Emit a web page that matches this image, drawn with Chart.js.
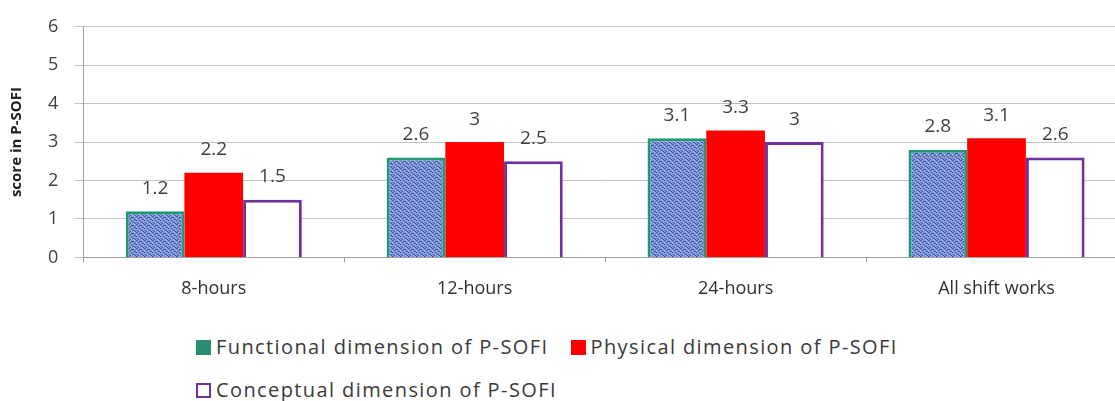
<!DOCTYPE html>
<html><head><meta charset="utf-8">
<script src="https://cdn.jsdelivr.net/npm/chart.js@4/dist/chart.umd.min.js"></script>
<style>
html,body{margin:0;padding:0;background:#fff;overflow:hidden;width:1115px;height:401px;}
#wrap{position:absolute;left:0;top:0;width:1127px;height:316px;}
#legend{position:absolute;left:196px;top:333px;width:780px;font-family:"Open Sans",sans-serif;font-size:20px;color:#3a3a3a;line-height:28px;white-space:nowrap;}
.item{display:inline-flex;align-items:center;margin-right:22px;height:28px;margin-bottom:15px;letter-spacing:1.4px;}
.sw{display:inline-block;width:15px;height:15px;margin-right:5px;box-sizing:border-box;}
</style></head><body>
<div id="wrap"><canvas id="c"></canvas></div>
<div id="legend"></div>
<script>
const categories = ["8-hours","12-hours","24-hours","All shift works"];
const functional = [1.2, 2.6, 3.1, 2.8];
const physical = [2.2, 3, 3.3, 3.1];
const conceptual = [1.5, 2.5, 3, 2.6];
const seriesNames = ["Functional dimension of P-SOFI","Physical dimension of P-SOFI","Conceptual dimension  of P-SOFI"];
const yTicks = [0,1,2,3,4,5,6];

function makePattern(){
  const p = document.createElement('canvas'); p.width = 8; p.height = 8;
  const g = p.getContext('2d');
  g.fillStyle = '#7f95d8'; g.fillRect(0,0,8,8);
  g.fillStyle = '#3b4fa0';
  const cells = [[0,0],[1,0],[4,1],[5,1],[2,2],[6,3],[7,3],[0,4],[3,4],[4,5],[1,6],[5,6],[6,6],[2,7],[7,7],[3,1]];
  cells.forEach(([x,y])=>g.fillRect(x,y,1,1));
  g.fillStyle = '#b5c3f0';
  [[2,0],[6,0],[0,2],[4,3],[1,5],[6,5],[3,6],[5,7]].forEach(([x,y])=>g.fillRect(x,y,1,1));
  return document.getElementById('c').getContext('2d').createPattern(p,'repeat');
}

const valueLabels = {
  id:'valueLabels',
  afterDatasetsDraw(chart){
    const ctx = chart.ctx;
    ctx.save();
    ctx.font = '19px "Open Sans", sans-serif';
    ctx.fillStyle = '#404040';
    ctx.textAlign = 'center';
    ctx.textBaseline = 'middle';
    chart.data.datasets.forEach((ds,i)=>{
      chart.getDatasetMeta(i).data.forEach((bar,j)=>{
        ctx.fillText(String(ds.data[j]), bar.x, bar.y - 23);
      });
    });
    ctx.restore();
  }
};

const chart = new Chart(document.getElementById('c'), {
  type:'bar',
  data:{
    labels:categories,
    datasets:[
      {label:seriesNames[0], data:functional, backgroundColor:makePattern(), borderColor:'#1f9a78', borderWidth:3, legendColor:'#2a8c72', legendBorder:'#2a8c72'},
      {label:seriesNames[1], data:physical, backgroundColor:'#ff0000', borderColor:'#ff0000', borderWidth:0, legendColor:'#ff0000', legendBorder:'#ff0000'},
      {label:seriesNames[2], data:conceptual, backgroundColor:'#ffffff', borderColor:'#7030a0', borderWidth:3, legendColor:'#ffffff', legendBorder:'#7030a0'}
    ]
  },
  options:{
    responsive:true, maintainAspectRatio:false, animation:false,
    layout:{padding:{top:22,left:8,right:0,bottom:0}},
    datasets:{bar:{barPercentage:1.0, categoryPercentage:0.675}},
    plugins:{legend:{display:false}, tooltip:{enabled:false}},
    scales:{
      x:{
        grid:{display:true, drawOnChartArea:false, drawTicks:true, tickLength:5, color:'#a0a0a0'},
        border:{color:'#a0a0a0'},
        ticks:{font:{family:'"Open Sans", sans-serif', size:18}, color:'#303030', padding:16}
      },
      y:{
        min:0, max:6,
        afterBuildTicks(axis){ axis.ticks = yTicks.map(v=>({value:v})); },
        grid:{color:'#c4c4c4', tickLength:9},
        border:{color:'#a0a0a0'},
        ticks:{font:{family:'"Open Sans", sans-serif', size:18}, color:'#404040', padding:16},
        title:{display:true, text:'score in P-SOFI', font:{family:'"Open Sans", sans-serif', size:15, weight:'bold'}, color:'#202020', padding:{top:0,bottom:6}}
      }
    }
  },
  plugins:[valueLabels]
});

const lg = document.getElementById('legend');
chart.data.datasets.forEach((ds,i)=>{
  const it = document.createElement('span'); it.className='item';
  const sw = document.createElement('span'); sw.className='sw';
  sw.style.background = ds.legendColor; sw.style.border = '2px solid '+ds.legendBorder;
  it.appendChild(sw);
  it.appendChild(document.createTextNode(ds.label));
  lg.appendChild(it);
  if(i===1) lg.appendChild(document.createElement('br'));
});
</script>
</body></html>
